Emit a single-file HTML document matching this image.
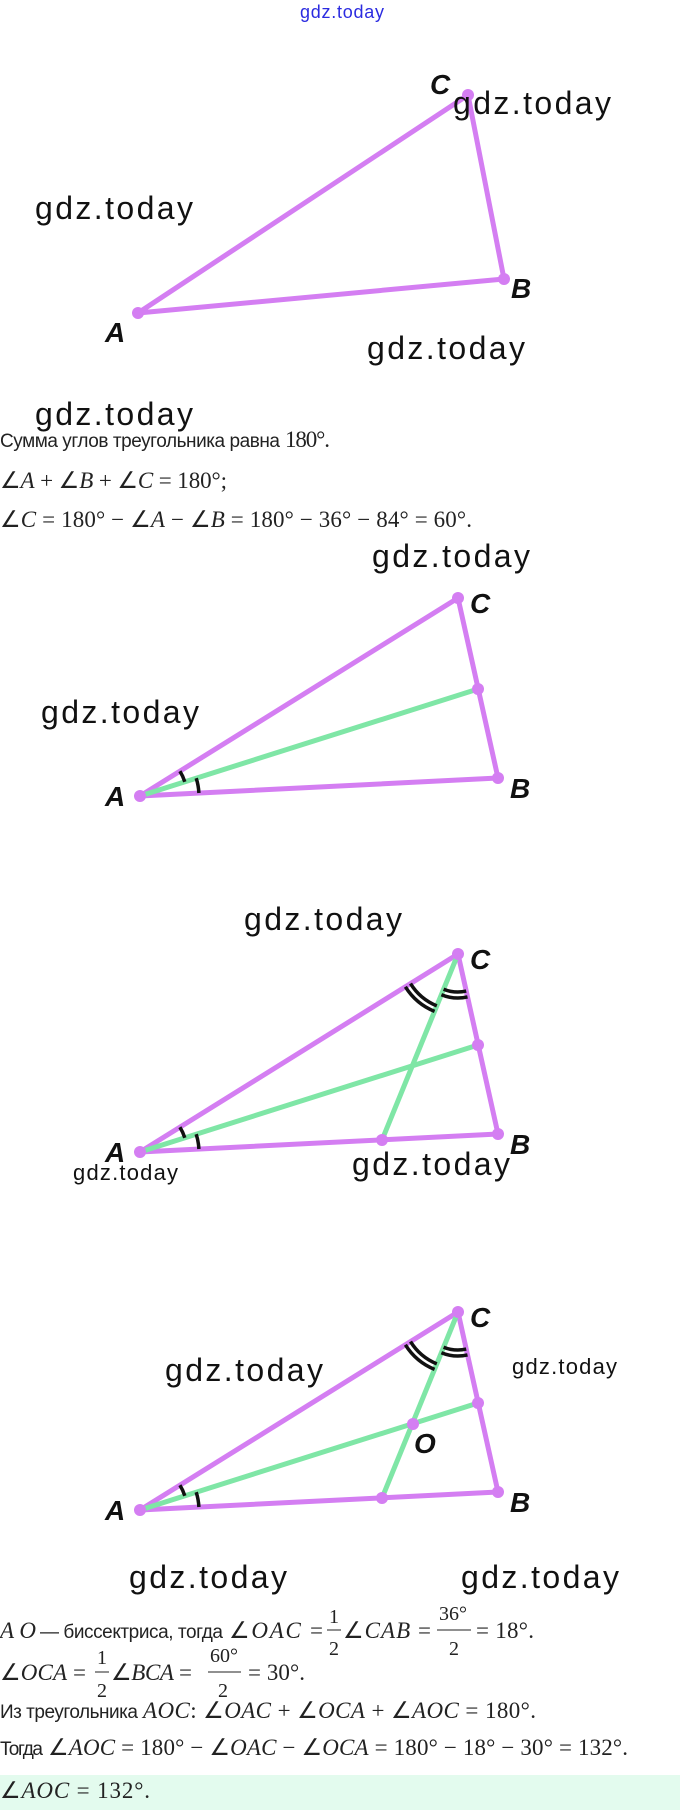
<!DOCTYPE html>
<html><head><meta charset="utf-8"><style>
html,body{margin:0;padding:0;background:#fff;width:680px;height:1810px;overflow:hidden}
svg{display:block}
.wm{font-family:"Liberation Sans",sans-serif;font-size:32px;fill:#111;font-weight:normal}
.wms{font-family:"Liberation Sans",sans-serif;font-size:22px;fill:#111}
.lb{font-family:"Liberation Sans Narrow","Liberation Sans",sans-serif;font-weight:bold;font-style:italic;font-size:28px;fill:#111}
.t{font-family:"Liberation Sans","Noto Sans CJK SC",sans-serif;font-size:19px;fill:#222}
.m{font-family:"Liberation Serif",serif;font-size:23px;fill:#222}
.i{font-style:italic}
.sm{font-family:"Liberation Serif",serif;font-size:20px;fill:#222}
</style></head><body>
<svg width="680" height="1810" viewBox="0 0 680 1810" xmlns="http://www.w3.org/2000/svg">
<rect x="0" y="1775" width="680" height="35" fill="#e3fbee"/>
<text x="300" y="18" font-family="Liberation Sans,sans-serif" font-size="18" fill="#2b2be0" textLength="84">gdz.today</text>

<!-- Diagram 1 -->
<g stroke="#d47ef2" stroke-width="5" fill="none" stroke-linecap="round">
<polygon points="138,313 468,95 504,279" stroke-linejoin="round"/>
</g>
<g fill="#d47ef2"><circle cx="138" cy="313" r="6"/><circle cx="468" cy="95" r="6"/><circle cx="504" cy="279" r="6"/></g>
<text class="lb" x="430" y="94">C</text>
<text class="lb" x="511" y="298">B</text>
<text class="lb" x="105" y="342">A</text>

<!-- Diagram 2 -->
<g transform="translate(140,796)">
<g stroke="#d47ef2" stroke-width="5" fill="none" stroke-linejoin="round"><polygon points="0,0 318,-198 358,-18"/></g>
<line x1="0" y1="0" x2="338" y2="-107" stroke="#7fe6a6" stroke-width="5"/>
<g stroke="#111" stroke-width="3.5" fill="none">
<path d="M39.9,-24.8 A47,47 0 0 1 44.8,-14.2"/>
<path d="M56.2,-17.8 A59,59 0 0 1 58.9,-3.0"/>
</g>
<g fill="#d47ef2"><circle cx="0" cy="0" r="6"/><circle cx="318" cy="-198" r="6"/><circle cx="358" cy="-18" r="6"/><circle cx="338" cy="-107" r="6"/></g>
<text class="lb" x="330" y="-183">C</text>
<text class="lb" x="370" y="2">B</text>
<text class="lb" x="-35" y="10">A</text>
</g>

<!-- Diagram 3 -->
<g transform="translate(140,1152)">
<g stroke="#d47ef2" stroke-width="5" fill="none" stroke-linejoin="round"><polygon points="0,0 318,-198 358,-18"/></g>
<line x1="0" y1="0" x2="338" y2="-107" stroke="#7fe6a6" stroke-width="5"/>
<line x1="318" y1="-198" x2="242" y2="-12" stroke="#7fe6a6" stroke-width="5"/>
<g stroke="#111" stroke-width="3.5" fill="none">
<path d="M39.9,-24.8 A47,47 0 0 1 44.8,-14.2"/>
<path d="M56.2,-17.8 A59,59 0 0 1 58.9,-3.0"/>
<path d="M294.6,-140.6 A62,62 0 0 1 265.4,-165.2"/>
<path d="M296.8,-146.1 A56,56 0 0 1 270.5,-168.4"/>
<path d="M327.5,-155.1 A44,44 0 0 1 301.4,-157.3"/>
<path d="M326.2,-160.9 A38,38 0 0 1 303.6,-162.8"/>
</g>
<g fill="#d47ef2"><circle cx="0" cy="0" r="6"/><circle cx="318" cy="-198" r="6"/><circle cx="358" cy="-18" r="6"/><circle cx="338" cy="-107" r="6"/><circle cx="242" cy="-12" r="6"/></g>
<text class="lb" x="330" y="-183">C</text>
<text class="lb" x="370" y="2">B</text>
<text class="lb" x="-35" y="10">A</text>
</g>

<!-- Diagram 4 -->
<g transform="translate(140,1510)">
<g stroke="#d47ef2" stroke-width="5" fill="none" stroke-linejoin="round"><polygon points="0,0 318,-198 358,-18"/></g>
<line x1="0" y1="0" x2="338" y2="-107" stroke="#7fe6a6" stroke-width="5"/>
<line x1="318" y1="-198" x2="242" y2="-12" stroke="#7fe6a6" stroke-width="5"/>
<g stroke="#111" stroke-width="3.5" fill="none">
<path d="M39.9,-24.8 A47,47 0 0 1 44.8,-14.2"/>
<path d="M56.2,-17.8 A59,59 0 0 1 58.9,-3.0"/>
<path d="M294.6,-140.6 A62,62 0 0 1 265.4,-165.2"/>
<path d="M296.8,-146.1 A56,56 0 0 1 270.5,-168.4"/>
<path d="M327.5,-155.1 A44,44 0 0 1 301.4,-157.3"/>
<path d="M326.2,-160.9 A38,38 0 0 1 303.6,-162.8"/>
</g>
<g fill="#d47ef2"><circle cx="0" cy="0" r="6"/><circle cx="318" cy="-198" r="6"/><circle cx="358" cy="-18" r="6"/><circle cx="338" cy="-107" r="6"/><circle cx="242" cy="-12" r="6"/><circle cx="273" cy="-86" r="6"/></g>
<text class="lb" x="330" y="-183">C</text>
<text class="lb" x="370" y="2">B</text>
<text class="lb" x="-35" y="10">A</text>
<text class="lb" x="274" y="-57">O</text>
</g>

<!-- watermarks -->
<text class="wm" x="453" y="114" textLength="158">gdz.today</text>
<text class="wm" x="35" y="219" textLength="158">gdz.today</text>
<text class="wm" x="367" y="359" textLength="158">gdz.today</text>
<text class="wm" x="35" y="425" textLength="158">gdz.today</text>
<text class="wm" x="372" y="567" textLength="158">gdz.today</text>
<text class="wm" x="41" y="723" textLength="158">gdz.today</text>
<text class="wm" x="244" y="930" textLength="158">gdz.today</text>
<text class="wms" x="73" y="1180" textLength="105">gdz.today</text>
<text class="wm" x="352" y="1175" textLength="158">gdz.today</text>
<text class="wm" x="165" y="1381" textLength="158">gdz.today</text>
<text class="wms" x="512" y="1374" textLength="105">gdz.today</text>
<text class="wm" x="129" y="1588" textLength="158">gdz.today</text>
<text class="wm" x="461" y="1588" textLength="158">gdz.today</text>

<!-- text block 1 -->
<text class="t" x="0" y="447" textLength="280">Сумма углов треугольника равна</text>
<text class="m" x="285" y="447" textLength="45">180°.</text>
<text class="m" x="0" y="488" textLength="227">∠<tspan class="i">A</tspan> + ∠<tspan class="i">B</tspan> + ∠<tspan class="i">C</tspan> = 180°;</text>
<text class="m" x="0" y="527" textLength="472">∠<tspan class="i">C</tspan> = 180° − ∠<tspan class="i">A</tspan> − ∠<tspan class="i">B</tspan> = 180° − 36° − 84° = 60°.</text>

<!-- text block 2 -->
<text class="m i" x="0" y="1638" textLength="36">AO</text>
<text class="t" x="40" y="1638" textLength="183">— биссектриса, тогда</text>
<text class="m" x="229" y="1638" textLength="94">∠<tspan class="i">OAC</tspan> =</text>
<text class="sm" x="329" y="1623">1</text>
<line x1="327" y1="1630" x2="341" y2="1630" stroke="#222" stroke-width="1"/>
<text class="sm" x="329" y="1655">2</text>
<text class="m" x="343" y="1638" textLength="88">∠<tspan class="i">CAB</tspan> =</text>
<text class="sm" x="439" y="1620">36°</text>
<line x1="437" y1="1630" x2="471" y2="1630" stroke="#222" stroke-width="1"/>
<text class="sm" x="449" y="1655">2</text>
<text class="m" x="476" y="1638" textLength="58">= 18°.</text>

<text class="m" x="0" y="1680" textLength="86">∠<tspan class="i">OCA</tspan> =</text>
<text class="sm" x="97" y="1664">1</text>
<line x1="95" y1="1672" x2="109" y2="1672" stroke="#222" stroke-width="1"/>
<text class="sm" x="97" y="1697">2</text>
<text class="m" x="111" y="1680" textLength="81">∠<tspan class="i">BCA</tspan> =</text>
<text class="sm" x="210" y="1662">60°</text>
<line x1="208" y1="1672" x2="241" y2="1672" stroke="#222" stroke-width="1"/>
<text class="sm" x="218" y="1697">2</text>
<text class="m" x="248" y="1680" textLength="57">= 30°.</text>

<text class="t" x="0" y="1718" textLength="138">Из треугольника</text>
<text class="m" x="143" y="1718" textLength="393"><tspan class="i">AOC</tspan>: ∠<tspan class="i">OAC</tspan> + ∠<tspan class="i">OCA</tspan> + ∠<tspan class="i">AOC</tspan> = 180°.</text>
<text class="t" x="0" y="1755" textLength="43">Тогда</text>
<text class="m" x="48" y="1755" textLength="580">∠<tspan class="i">AOC</tspan> = 180° − ∠<tspan class="i">OAC</tspan> − ∠<tspan class="i">OCA</tspan> = 180° − 18° − 30° = 132°.</text>
<text class="m" x="0" y="1798" textLength="150">∠<tspan class="i">AOC</tspan> = 132°.</text>
</svg>
</body></html>
